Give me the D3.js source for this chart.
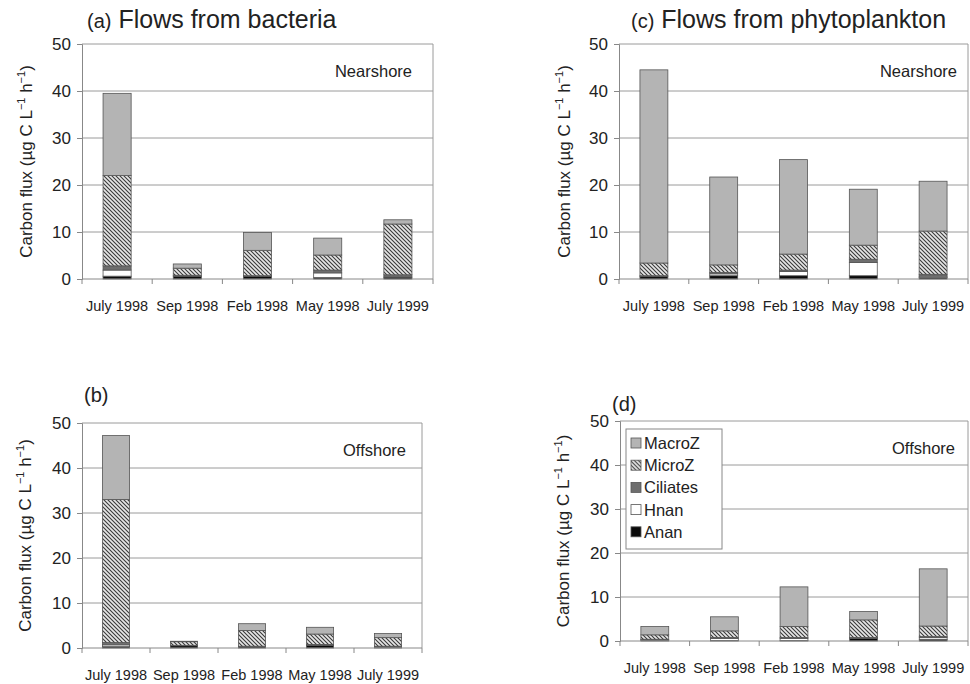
<!DOCTYPE html>
<html>
<head>
<meta charset="utf-8">
<script src="https://cdn.jsdelivr.net/npm/d3@7"></script>
<style>
  body { margin: 0; background: #fff; }
  svg { display: block; }
  text { font-family: "Liberation Sans", Arial, sans-serif; fill: #222; }
</style>
</head>
<body>
<svg id="chart" width="970" height="684"></svg>
<script>
// ---------- DATA ----------
const categories = ["July 1998", "Sep 1998", "Feb 1998", "May 1998", "July 1999"];
const seriesNames = ["Anan", "Hnan", "Ciliates", "MicroZ", "MacroZ"]; // bottom to top
const legendOrder = ["MacroZ", "MicroZ", "Ciliates", "Hnan", "Anan"];
const yTicks = [0, 10, 20, 30, 40, 50];

// (a) Flows from bacteria – Nearshore
const aAnan     = [0.6, 0.6, 0.6, 0.3, 0.4];
const aHnan     = [1.3, 0.0, 0.0, 1.0, 0.0];
const aCiliates = [0.9, 0.2, 0.1, 0.6, 0.5];
const aMicroZ   = [19.2, 1.5, 5.4, 3.2, 10.8];
const aMacroZ   = [17.5, 0.9, 3.8, 3.6, 0.9];

// (b) Flows from bacteria – Offshore
const bAnan     = [0.3, 0.5, 0.3, 0.6, 0.1];
const bHnan     = [0.4, 0.0, 0.0, 0.0, 0.2];
const bCiliates = [0.5, 0.1, 0.1, 0.2, 0.1];
const bMicroZ   = [31.8, 0.8, 3.5, 2.3, 1.9];
const bMacroZ   = [14.2, 0.1, 1.5, 1.5, 0.9];

// (c) Flows from phytoplankton – Nearshore
const cAnan     = [0.5, 0.7, 0.7, 0.7, 0.3];
const cHnan     = [0.0, 0.4, 0.9, 2.8, 0.3];
const cCiliates = [0.2, 0.3, 0.3, 0.7, 0.4];
const cMicroZ   = [2.7, 1.6, 3.4, 3.0, 9.2];
const cMacroZ   = [41.1, 18.7, 20.1, 11.9, 10.6];

// (d) Flows from phytoplankton – Offshore
const dAnan     = [0.1, 0.1, 0.1, 0.6, 0.4];
const dHnan     = [0.2, 0.5, 0.5, 0.0, 0.4];
const dCiliates = [0.1, 0.2, 0.2, 0.2, 0.2];
const dMicroZ   = [1.0, 1.5, 2.5, 4.0, 2.4];
const dMacroZ   = [1.9, 3.2, 9.0, 1.9, 13.0];

// ---------- LAYOUT ----------
const panels = [
  { letter: "(a)", title: "Flows from bacteria", site: "Nearshore",
    series: [aAnan, aHnan, aCiliates, aMicroZ, aMacroZ],
    x0: 82, x1: 433, yTop: 44, yBot: 279, titleX: 87, titleY: 28, labelX: 32, siteX: 412, legend: false },
  { letter: "(c)", title: "Flows from phytoplankton", site: "Nearshore",
    series: [cAnan, cHnan, cCiliates, cMicroZ, cMacroZ],
    x0: 619, x1: 968, yTop: 44, yBot: 279, titleX: 631, titleY: 28, labelX: 570, siteX: 957, legend: false },
  { letter: "(b)", title: "", site: "Offshore",
    series: [bAnan, bHnan, bCiliates, bMicroZ, bMacroZ],
    x0: 82, x1: 422, yTop: 423, yBot: 648, titleX: 84, titleY: 402, labelX: 31, siteX: 406, legend: false },
  { letter: "(d)", title: "", site: "Offshore",
    series: [dAnan, dHnan, dCiliates, dMicroZ, dMacroZ],
    x0: 620, x1: 968, yTop: 421, yBot: 641, titleX: 612, titleY: 411, labelX: 569, siteX: 955, legend: true }
];

const fills = {
  MacroZ: "#b4b4b4",
  MicroZ: "url(#hatch)",
  Ciliates: "#6e6e6e",
  Hnan: "#ffffff",
  Anan: "#0a0a0a"
};

const svg = d3.select("#chart");
const defs = svg.append("defs");
const pat = defs.append("pattern")
  .attr("id", "hatch").attr("patternUnits", "userSpaceOnUse")
  .attr("width", 4).attr("height", 4);
pat.append("rect").attr("width", 4).attr("height", 4).attr("fill", "#e6e6e6");
pat.append("path").attr("d", "M0,0 L4,4 M-1,3 L1,5 M3,-1 L5,1")
  .attr("stroke", "#3a3a3a").attr("stroke-width", 1.1);

panels.forEach(p => {
  const g = svg.append("g");
  const x = d3.scaleBand().domain(categories).range([p.x0, p.x1]);
  const y = d3.scaleLinear().domain([0, 50]).range([p.yBot, p.yTop]);

  // gridlines
  g.selectAll(".grid").data(yTicks.filter(t => t > 0)).enter().append("line")
    .attr("x1", p.x0).attr("x2", p.x1)
    .attr("y1", d => y(d)).attr("y2", d => y(d))
    .attr("stroke", "#9a9a9a").attr("stroke-width", 1);
  // right border
  g.append("line").attr("x1", p.x1).attr("x2", p.x1)
    .attr("y1", y(50)).attr("y2", y(0))
    .attr("stroke", "#9a9a9a");

  // stacked bars
  const rows = categories.map((c, i) => {
    const r = { cat: c };
    seriesNames.forEach((s, k) => r[s] = p.series[k][i]);
    return r;
  });
  const stacked = d3.stack().keys(seriesNames)(rows);
  const bw = x.bandwidth() * 0.4;
  stacked.forEach(layer => {
    g.selectAll(null).data(layer).enter().append("rect")
      .attr("x", d => x(d.data.cat) + (x.bandwidth() - bw) / 2)
      .attr("width", bw)
      .attr("y", d => y(d[1]))
      .attr("height", d => Math.max(0, y(d[0]) - y(d[1])))
      .attr("fill", fills[layer.key])
      .attr("stroke", d => (d[1] - d[0]) > 0 ? "#555" : "none")
      .attr("stroke-width", 0.8);
  });

  // y axis
  const ya = d3.axisLeft(y).tickValues(yTicks).tickSize(5).tickPadding(6);
  const yg = g.append("g").attr("transform", `translate(${p.x0},0)`).call(ya);
  yg.select(".domain").attr("stroke", "#888");
  yg.selectAll(".tick line").attr("stroke", "#888");
  yg.selectAll(".tick text").attr("font-size", 17).attr("fill", "#222")
    .attr("font-family", "Liberation Sans, Arial, sans-serif");

  // x axis: line plus category boundary ticks
  g.append("line").attr("x1", p.x0).attr("x2", p.x1)
    .attr("y1", p.yBot).attr("y2", p.yBot).attr("stroke", "#888");
  const bounds = categories.map(c => x(c)).concat([p.x1]);
  g.selectAll(null).data(bounds).enter().append("line")
    .attr("x1", d => d).attr("x2", d => d)
    .attr("y1", p.yBot).attr("y2", p.yBot + 5).attr("stroke", "#888");
  g.selectAll(null).data(categories).enter().append("text")
    .attr("x", d => x(d) + x.bandwidth() / 2)
    .attr("y", p.yBot + 32)
    .attr("text-anchor", "middle").attr("font-size", 14.5)
    .text(d => d);

  // y-axis label
  const cy = (p.yTop + p.yBot) / 2;
  const lab = g.append("text")
    .attr("transform", `translate(${p.labelX},${cy}) rotate(-90)`)
    .attr("text-anchor", "middle").attr("font-size", 17).attr("fill", "#333");
  lab.append("tspan").text("Carbon flux (µg C L");
  lab.append("tspan").attr("font-size", 11).attr("dy", -7).text("−1");
  lab.append("tspan").attr("dy", 7).text(" h");
  lab.append("tspan").attr("font-size", 11).attr("dy", -7).text("−1");
  lab.append("tspan").attr("dy", 7).text(")");

  // title
  const t = g.append("text").attr("x", p.titleX).attr("y", p.titleY);
  t.append("tspan").attr("font-size", 20).text(p.letter);
  if (p.title) t.append("tspan").attr("font-size", 25).text(" " + p.title);

  // site label
  g.append("text").attr("x", p.siteX).attr("y", p.yTop + 33)
    .attr("text-anchor", "end").attr("font-size", 16.5).text(p.site);

  // legend
  if (p.legend) {
    const lg = g.append("g").attr("transform", `translate(${p.x0 + 6},${p.yTop + 8})`);
    lg.append("rect").attr("width", 96).attr("height", 120)
      .attr("fill", "#fff").attr("stroke", "#888");
    legendOrder.forEach((s, i) => {
      const row = lg.append("g").attr("transform", `translate(5,${14 + i * 22.2})`);
      row.append("rect").attr("x", 0).attr("y", -5).attr("width", 10).attr("height", 10)
        .attr("fill", fills[s]).attr("stroke", "#555").attr("stroke-width", 0.8);
      row.append("text").attr("x", 13).attr("y", 6).attr("font-size", 16.5).text(s);
    });
  }
});
</script>
</body>
</html>
